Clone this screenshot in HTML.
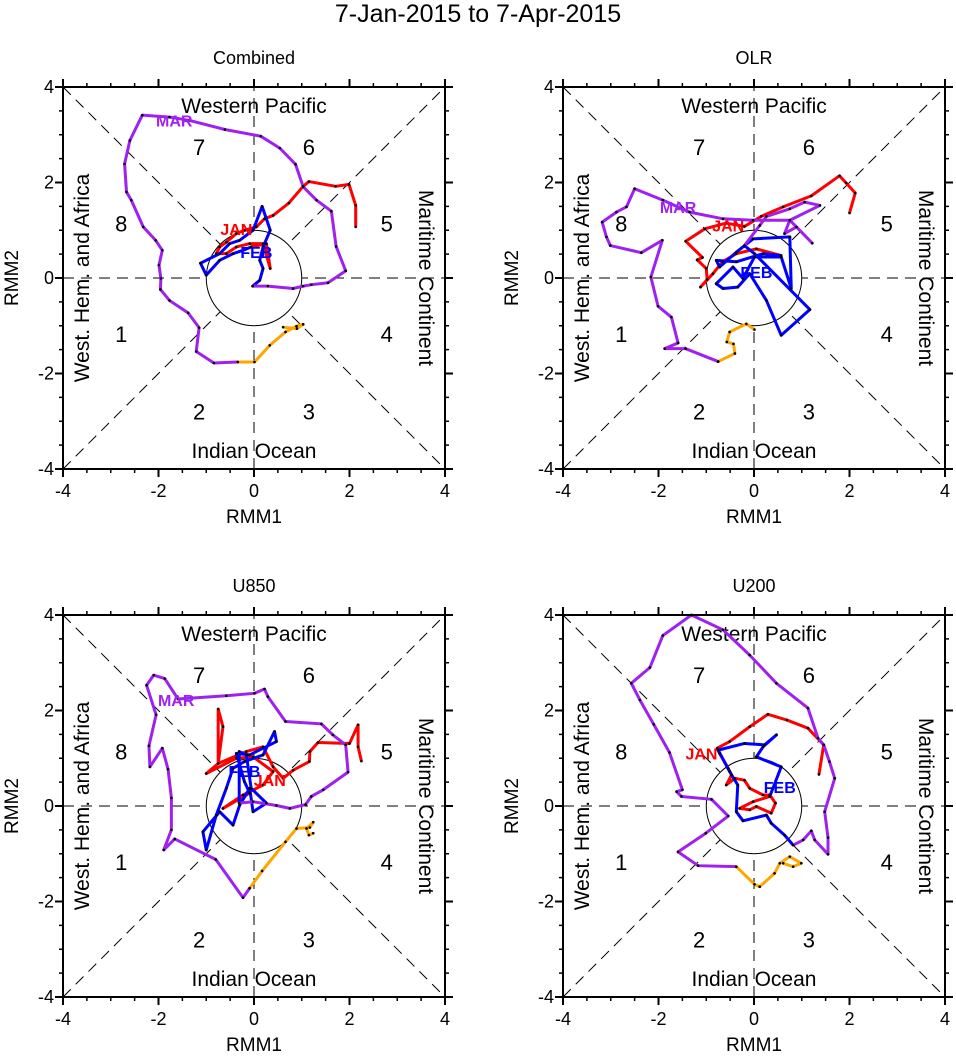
<!DOCTYPE html>
<html><head><meta charset="utf-8"><style>
body{margin:0;background:#fff}
svg{display:block;font-family:"Liberation Sans",sans-serif}
</style></head><body>
<svg id="fig" width="956" height="1058" viewBox="0 0 956 1058" xmlns="http://www.w3.org/2000/svg">
<rect width="956" height="1058" fill="#fff"/>
<text x="478" y="22" font-size="25" text-anchor="middle">7-Jan-2015 to 7-Apr-2015</text>
</svg>
<script>
// axis tick values
const tickLabels = [-4,-2,0,2,4];
const panelTitles = ['Combined','OLR','U850','U200'];
// Combined
const c_jan_x=[2.13,2.13,1.99,1.71,1.15,1.03,0.73,0.40,0.22,0.05,-0.20,-0.37,-0.58,-0.72,-0.79,-0.58,-0.37,-0.09,0.19,0.34,0.26,-0.06];
const c_jan_y=[1.07,1.52,1.96,1.92,2.02,1.92,1.57,1.31,1.24,1.07,1.00,0.93,0.75,0.65,0.51,0.51,0.65,0.72,0.72,0.20,0.72,0.65];
const c_feb_x=[-0.06,-0.23,-0.44,-0.72,-1.00,-1.12,-0.72,-0.51,-0.30,-0.02,0.17,0.34,0.19,0.12,0.19,0.12,-0.03];
const c_feb_y=[0.65,0.58,0.51,0.37,0.06,0.31,0.51,0.72,0.79,1.00,1.50,1.00,0.65,0.37,0.20,-0.05,-0.17];
const c_mar_x=[-0.03,0.29,0.82,1.03,1.20,1.55,1.92,1.72,1.62,1.31,1.03,0.87,0.54,0.14,-0.61,-1.35,-1.77,-2.34,-2.60,-2.71,-2.67,-2.57,-2.32,-2.06,-1.92,-1.99,-1.95,-1.96,-1.77,-1.38,-1.15,-1.21,-0.84,-0.34];
const c_mar_y=[-0.17,-0.17,-0.22,-0.17,-0.14,-0.10,0.15,0.66,1.40,1.63,1.91,2.38,2.72,2.97,3.11,3.30,3.37,3.41,2.88,2.39,1.80,1.63,1.07,0.79,0.58,0.27,-0.01,-0.24,-0.47,-0.73,-1.04,-1.54,-1.78,-1.76];
const c_apr_x=[-0.34,0.01,0.33,0.66,0.89,1.03,0.90,0.61];
const c_apr_y=[-1.76,-1.76,-1.41,-1.13,-1.01,-0.97,-1.06,-1.03];
// OLR
const o_jan_x=[2.00,2.12,1.93,1.79,1.20,0.61,0.15,-0.20,-0.58,-1.03,-1.43,-1.08,-1.19,-1.00,-0.98,-1.12,-0.86,-0.66,-0.37,0.05,0.57];
const o_jan_y=[1.36,1.78,1.99,2.14,1.72,1.49,1.29,1.08,1.15,1.03,0.77,0.43,0.38,0.20,-0.03,-0.19,0.09,0.34,0.51,0.61,0.47];
const o_feb_x=[0.57,0.19,-0.37,-0.79,-0.72,-0.37,-0.02,0.75,0.78,0.57,0.01,-0.23,-0.44,-0.79,-0.65,-0.34,-0.09,0.26,0.57,1.17,0.01,-0.20];
const o_feb_y=[0.47,0.51,0.34,0.37,0.23,0.54,0.82,0.86,-0.22,0.44,0.44,-0.01,0.23,-0.12,-0.22,-0.19,0.09,-0.47,-1.20,-0.66,0.51,0.68];
const o_mar_x=[-0.20,0.12,0.26,0.75,1.06,1.38,0.75,0.64,0.89,1.22,0.75,-0.02,-0.65,-1.35,-1.91,-2.50,-2.67,-2.88,-3.18,-3.09,-3.01,-2.36,-1.92,-2.16,-2.01,-1.73,-1.59,-1.87,-1.43,-0.75];
const o_mar_y=[0.68,1.10,1.29,1.45,1.59,1.52,1.21,0.93,1.07,0.73,1.21,1.21,1.24,1.38,1.63,1.87,1.49,1.38,1.17,0.86,0.68,0.53,0.79,0.02,-0.59,-0.82,-1.36,-1.48,-1.48,-1.75];
const o_apr_x=[-0.75,-0.40,-0.43,-0.57,-0.51,-0.16,0.01];
const o_apr_y=[-1.75,-1.58,-1.38,-1.34,-1.13,-0.96,-1.08];
// U850
const u8_jan_x=[2.25,2.18,2.18,2.00,1.34,1.17,1.16,0.82,0.61,0.40,0.19,-0.16,-0.75,-0.65,-0.75,-0.75,-1.00,-0.37,-0.02,0.40,0.19,-0.23,-0.65,-0.09];
const u8_jan_y=[0.94,1.24,1.70,1.31,1.33,1.14,0.93,0.75,0.58,0.82,1.24,1.14,0.89,1.66,2.03,0.89,0.68,1.00,1.03,0.72,0.44,0.23,-0.05,0.27];
const u8_feb_x=[-0.09,-0.20,-0.37,-0.09,0.47,0.43,0.19,-0.20,-0.44,-0.58,-0.79,-1.00,-1.07,-0.72,-0.44,-0.30,-0.09,-0.02,0.26,-0.06,-0.16,-0.31,-0.31];
const u8_feb_y=[0.27,0.51,1.10,1.07,1.35,1.56,1.07,0.93,0.79,0.37,-0.19,-0.92,-0.54,-0.12,-0.40,0.02,0.37,-0.12,0.06,0.37,1.07,1.14,0.06];
const u8_mar_x=[-0.31,-0.02,0.47,0.75,1.08,1.20,1.45,1.97,1.92,1.65,1.41,0.66,0.29,0.22,0.01,-0.58,-1.59,-1.87,-2.10,-2.25,-2.05,-2.20,-2.18,-1.92,-1.80,-1.73,-1.73,-1.89,-1.66,-0.80,-0.23,-0.09];
const u8_mar_y=[0.06,0.09,0.01,-0.05,0.03,0.20,0.34,0.71,1.28,1.49,1.72,1.77,2.29,2.45,2.36,2.31,2.24,2.67,2.74,2.53,1.91,1.26,0.82,1.21,0.77,0.17,-0.50,-0.92,-0.69,-1.12,-1.92,-1.72];
const u8_apr_x=[-0.09,0.17,0.66,0.89,1.17,1.24,1.10,1.15,1.24];
const u8_apr_y=[-1.72,-1.36,-0.75,-0.47,-0.45,-0.34,-0.47,-0.61,-0.57];
// U200
const u2_jan_x=[1.36,1.46,1.13,0.69,0.29,-0.09,-0.51,-0.77,-0.72,-0.54,-0.47,-0.58,-0.40,-0.20,-0.09,0.19,0.33,0.45,0.36,0.05,-0.09,-0.30,-0.02,0.33];
const u2_jan_y=[0.66,1.28,1.63,1.80,1.92,1.66,1.35,1.21,1.10,0.79,0.65,0.44,0.58,0.54,0.37,0.23,0.23,0.06,-0.15,-0.01,-0.08,-0.05,0.09,0.20];
const u2_feb_x=[0.33,0.57,0.05,0.19,0.47,0.22,-0.20,-0.75,-0.51,-0.34,-0.37,-0.23,0.26,0.36,0.64,0.82];
const u2_feb_y=[0.20,0.82,1.03,1.24,1.49,1.28,1.31,1.17,0.72,0.44,-0.12,-0.31,-0.19,-0.36,-0.61,-0.82];
const u2_mar_x=[0.82,1.03,1.20,1.27,1.55,1.55,1.48,1.69,1.58,1.46,1.34,1.13,0.47,-0.09,-0.65,-1.31,-1.91,-2.18,-2.57,-2.39,-2.10,-1.77,-1.50,-1.62,-1.52,-0.89,-0.54,-1.01,-1.59,-1.17,-0.37];
const u2_mar_y=[-0.82,-0.71,-0.52,-0.71,-1.01,-0.66,-0.12,0.58,0.93,1.28,1.42,2.05,2.57,3.16,3.69,4.00,3.57,2.90,2.57,2.22,1.71,1.12,0.34,0.30,0.20,0.14,-0.21,-0.57,-0.96,-1.25,-1.27];
const u2_apr_x=[-0.37,0.01,0.12,0.43,0.54,0.75,0.99,0.82,0.61];
const u2_apr_y=[-1.27,-1.64,-1.69,-1.41,-1.20,-1.06,-1.20,-1.27,-1.20];
// month label positions (data units), order JAN, FEB, MAR
const lab_x=[[-0.37,0.05,-1.67],[-0.54,0.05,-1.59],[0.33,-0.20,-1.63],[-1.10,0.54,null]];
const lab_y=[[1.03,0.54,3.30],[1.10,0.13,1.49],[0.54,0.73,2.22],[1.10,0.40,null]];

const NS='http://www.w3.org/2000/svg';
const svg=document.getElementById('fig');
function mk(tag,attrs,parent){const e=document.createElementNS(NS,tag);for(const k in attrs)e.setAttribute(k,attrs[k]);(parent||svg).appendChild(e);return e;}
const panels=[
 {L:63,T:87,series:[[c_jan_x,c_jan_y],[c_feb_x,c_feb_y],[c_mar_x,c_mar_y],[c_apr_x,c_apr_y]]},
 {L:563,T:87,series:[[o_jan_x,o_jan_y],[o_feb_x,o_feb_y],[o_mar_x,o_mar_y],[o_apr_x,o_apr_y]]},
 {L:63,T:615,series:[[u8_jan_x,u8_jan_y],[u8_feb_x,u8_feb_y],[u8_mar_x,u8_mar_y],[u8_apr_x,u8_apr_y]]},
 {L:563,T:615,series:[[u2_jan_x,u2_jan_y],[u2_feb_x,u2_feb_y],[u2_mar_x,u2_mar_y],[u2_apr_x,u2_apr_y]]}
];
const colors=['#ff0000','#0000ff','#a020f0','#ffa500'];
const names=['JAN','FEB','MAR'];
const S=382;
panels.forEach((p,pi)=>{
  const sx=v=>p.L+(v+4)/8*S, sy=v=>p.T+(4-v)/8*S;
  const g=mk('g',{});
  
  
  const t=mk('text',{x:p.L+S/2,y:p.T-23,'font-size':18,'text-anchor':'middle'},g);
  
  
  t.textContent=panelTitles[pi];
  [[-4,-4,4,4],[-4,4,4,-4],[-4,0,4,0],[0,-4,0,4]].forEach(a=>{
    const l=mk('line',{x1:sx(a[0]),y1:sy(a[1]),x2:sx(a[2]),y2:sy(a[3]),stroke:'#000','stroke-width':1,'stroke-dasharray':'11,7'},g);
    
    
  });
  const cw=mk('circle',{cx:sx(0),cy:sy(0),r:S/8,fill:'#fff',stroke:'none'},g);
  
  
  const c=mk('circle',{cx:sx(0),cy:sy(0),r:S/8,fill:'none',stroke:'#000','stroke-width':1},g);
  
  
  const rl=[['Western Pacific',sx(0),p.T+26],['Indian Ocean',sx(0),p.T+S-11]];
  rl.forEach(r=>{const e=mk('text',{x:r[1],y:r[2],'font-size':21,'text-anchor':'middle'},g);
    
    
    e.textContent=r[0];});
  let e=mk('text',{x:0,y:0,'font-size':21,'text-anchor':'middle',transform:`translate(${p.L+26},${sy(0)}) rotate(-90)`},g);
  
  
  e.textContent='West. Hem. and Africa';
  e=mk('text',{x:0,y:0,'font-size':21,'text-anchor':'middle',transform:`translate(${p.L+S-26},${sy(0)}) rotate(90)`},g);
  
  
  e.textContent='Maritime Continent';
  const ph=[[1,-2.78,-1.17],[2,-1.15,-2.8],[3,1.15,-2.8],[4,2.78,-1.17],[5,2.78,1.14],[6,1.15,2.74],[7,-1.15,2.74],[8,-2.78,1.14]];
  ph.forEach(q=>{const n=mk('text',{x:sx(q[1]),y:sy(q[2])+8,'font-size':22,'text-anchor':'middle'},g);
    
    
    n.textContent=q[0];});
  p.series.forEach((s,si)=>{
    const pts=s[0].map((v,i)=>sx(v)+','+sy(s[1][i])).join(' ');
    const pl=mk('polyline',{points:pts,fill:'none',stroke:colors[si],'stroke-width':3,'stroke-linejoin':'round'},g);
    
    
  });
  p.series.forEach((s,si)=>{
    s[0].forEach((v,i)=>{const d=mk('circle',{cx:sx(v),cy:sy(s[1][i]),r:1.3,fill:'#000'},g);
      
      });
  });
  names.forEach((nm,k)=>{
    if(lab_x[pi][k]===null)return;
    const m=mk('text',{x:sx(lab_x[pi][k]),y:sy(lab_y[pi][k])+6,'font-size':16,'font-weight':'bold','text-anchor':'middle',fill:colors[k]},g);
    
    
    m.textContent=nm;
  });
  const f=mk('rect',{x:p.L,y:p.T,width:S,height:S,fill:'none',stroke:'#000','stroke-width':2},g);
  
  
  for(let v=-4;v<=4.001;v+=0.5){
    const maj=Math.abs(v%2)<0.01, len=maj?8:4;
    [[sx(v),p.T+S,sx(v),p.T+S+len],[sx(v),p.T,sx(v),p.T-len],[p.L,sy(v),p.L-len,sy(v)],[p.L+S,sy(v),p.L+S+len,sy(v)]].forEach(a=>{
      const tk=mk('line',{x1:a[0],y1:a[1],x2:a[2],y2:a[3],stroke:'#000','stroke-width':maj?2:1.5},g);
      
      
    });
  }
  tickLabels.forEach(v=>{
    let a=mk('text',{x:sx(v),y:p.T+S+28,'font-size':18,'text-anchor':'middle'},g);
    
    
    a.textContent=v;
    a=mk('text',{x:p.L-9,y:sy(v)+6,'font-size':18,'text-anchor':'end'},g);
    
    
    a.textContent=v;
  });
  let ax=mk('text',{x:sx(0),y:p.T+S+54,'font-size':19,'text-anchor':'middle'},g);
  
  
  ax.textContent='RMM1';
  ax=mk('text',{x:0,y:0,'font-size':19,'text-anchor':'middle',transform:`translate(${p.L-45},${sy(0)}) rotate(-90)`},g);
  
  
  ax.textContent='RMM2';
});
</script>
</body></html>
